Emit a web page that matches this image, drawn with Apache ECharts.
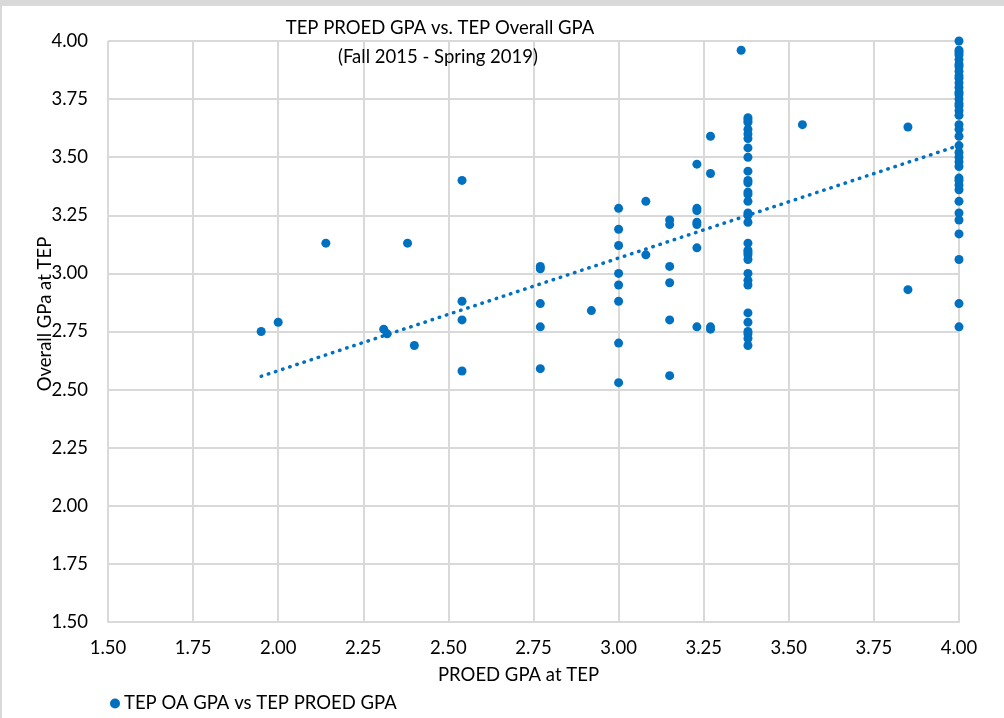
<!DOCTYPE html>
<html>
<head>
<meta charset="utf-8">
<script src="https://cdn.jsdelivr.net/npm/echarts@6/dist/echarts.min.js"></script>
<style>
html,body{margin:0;padding:0;background:#fff;}
#chart{width:1004px;height:718px;}
</style>
</head>
<body>
<div id="chart"></div>
<script>
// PROED GPA at TEP (x) and Overall GPA at TEP (y), paired
const proedGpa = [
  1.95, 2.00, 2.14, 2.31, 2.32, 2.38, 2.40,
  2.54, 2.54, 2.54, 2.54,
  2.77, 2.77, 2.77, 2.77, 2.77,
  2.92,
  3.00, 3.00, 3.00, 3.00, 3.00, 3.00, 3.00, 3.00,
  3.08, 3.08,
  3.15, 3.15, 3.15, 3.15, 3.15, 3.15,
  3.23, 3.23, 3.23, 3.23, 3.23, 3.23, 3.23,
  3.27, 3.27, 3.27, 3.27,
  3.36,
  3.38, 3.38, 3.38, 3.38, 3.38, 3.38, 3.38, 3.38, 3.38, 3.38, 3.38, 3.38, 3.38, 3.38, 3.38, 3.38,
  3.38, 3.38, 3.38, 3.38, 3.38, 3.38, 3.38, 3.38, 3.38, 3.38, 3.38, 3.38, 3.38, 3.38, 3.38,
  3.54,
  3.85, 3.85,
  4.00, 4.00, 4.00, 4.00, 4.00, 4.00, 4.00, 4.00, 4.00, 4.00, 4.00, 4.00, 4.00, 4.00, 4.00, 4.00, 4.00, 4.00, 4.00,
  4.00, 4.00, 4.00, 4.00, 4.00, 4.00, 4.00, 4.00, 4.00, 4.00, 4.00, 4.00, 4.00, 4.00, 4.00, 4.00, 4.00, 4.00, 4.00
];
const overallGpa = [
  2.75, 2.79, 3.13, 2.76, 2.74, 3.13, 2.69,
  3.40, 2.88, 2.80, 2.58,
  3.03, 3.02, 2.87, 2.77, 2.59,
  2.84,
  3.28, 3.19, 3.12, 3.00, 2.95, 2.88, 2.70, 2.53,
  3.31, 3.08,
  3.23, 3.21, 3.03, 2.96, 2.80, 2.56,
  3.47, 3.28, 3.27, 3.22, 3.21, 3.11, 2.77,
  3.59, 3.43, 2.77, 2.76,
  3.96,
  3.67, 3.66, 3.65, 3.62, 3.60, 3.58, 3.54, 3.50, 3.44, 3.40, 3.39, 3.35, 3.34, 3.31, 3.26, 3.25,
  3.22, 3.13, 3.10, 3.09, 3.08, 3.06, 3.00, 2.97, 2.95, 2.83, 2.79, 2.75, 2.74, 2.72, 2.69,
  3.64,
  3.63, 2.93,
  4.00, 3.96, 3.95, 3.94, 3.92, 3.90, 3.89, 3.87, 3.85, 3.84, 3.82, 3.80, 3.78, 3.77, 3.75, 3.73, 3.72, 3.70, 3.68,
  3.64, 3.62, 3.59, 3.55, 3.52, 3.50, 3.48, 3.46, 3.41, 3.40, 3.38, 3.36, 3.31, 3.26, 3.23, 3.17, 3.06, 2.87, 2.77
];
const titleLines = ['TEP PROED GPA vs. TEP Overall GPA', '(Fall 2015 - Spring 2019)'];
const seriesName = 'TEP OA GPA vs TEP PROED GPA';
const xAxisName = 'PROED GPA at TEP';
const yAxisName = 'Overall GPa at TEP';

const points = proedGpa.map((x, i) => [x, overallGpa[i]]);

// Linear (least squares) trendline, as Excel draws it
const n = points.length;
let sx = 0, sy = 0, sxx = 0, sxy = 0;
points.forEach(([x, y]) => { sx += x; sy += y; sxx += x * x; sxy += x * y; });
const slope = (n * sxy - sx * sy) / (n * sxx - sx * sx);
const intercept = (sy - slope * sx) / n;
const xMin = Math.min(...proedGpa), xMax = Math.max(...proedGpa);
const trend = [[xMin, intercept + slope * xMin], [xMax, intercept + slope * xMax]];

const FONT = 'Lato';
const FS = 18.5;
const chart = echarts.init(document.getElementById('chart'), null, {renderer: 'canvas'});
chart.setOption({
  animation: false,
  backgroundColor: '#fff',
  textStyle: {fontFamily: FONT},
  title: [
    {text: titleLines[0], left: 440, top: 19, textAlign: 'center', padding: 0,
     textStyle: {fontFamily: FONT, fontSize: FS, fontWeight: 'normal', color: '#000'}},
    {text: titleLines[1], left: 438, top: 48, textAlign: 'center', padding: 0,
     textStyle: {fontFamily: FONT, fontSize: FS, fontWeight: 'normal', color: '#000'}}
  ],
  grid: {left: 108, right: 45, top: 41, bottom: 96, containLabel: false},
  legend: {
    left: 110, top: 694, padding: 0, itemWidth: 10, itemHeight: 10, itemGap: 6,
    icon: 'circle',
    textStyle: {fontFamily: FONT, fontSize: FS, color: '#000', padding: [0, 0, 0, -1]},
    data: [seriesName]
  },
  xAxis: {
    type: 'value', min: 1.5, max: 4.0, interval: 0.25,
    name: xAxisName, nameLocation: 'middle', nameGap: 44,
    nameTextStyle: {fontFamily: FONT, fontSize: FS, color: '#000', padding: [0, 30, 0, 0]},
    axisLine: {show: true, lineStyle: {color: '#d9d9d9', width: 2}},
    axisTick: {show: false},
    axisLabel: {fontFamily: FONT, fontSize: FS, color: '#000', margin: 17,
      formatter: v => v.toFixed(2)},
    splitLine: {show: true, lineStyle: {color: '#d9d9d9', width: 2}}
  },
  yAxis: {
    type: 'value', min: 1.5, max: 4.0, interval: 0.25,
    axisLine: {show: false},
    axisTick: {show: false},
    axisLabel: {fontFamily: FONT, fontSize: FS, color: '#000', margin: 20,
      formatter: v => v.toFixed(2)},
    splitLine: {show: true, lineStyle: {color: '#d9d9d9', width: 2}}
  },
  graphic: [
    {type: 'rect', left: 0, top: 0, shape: {width: 1004, height: 6}, style: {fill: '#d9d9d9'}, silent: true},
    {type: 'rect', left: 0, top: 0, shape: {width: 2, height: 718}, style: {fill: '#d9d9d9'}, silent: true},
    {type: 'text', x: 45, y: 314, rotation: Math.PI / 2,
     style: {text: yAxisName, fontFamily: FONT, fontSize: FS, fill: '#000',
       textAlign: 'center', textVerticalAlign: 'middle'}}
  ],
  series: [
    {
      name: seriesName, type: 'scatter', data: points,
      symbol: 'circle', symbolSize: 9,
      itemStyle: {color: '#0070c0', opacity: 1}, z: 3
    },
    {
      name: 'trend', type: 'line', data: trend, symbol: 'none',
      lineStyle: {color: '#0070c0', width: 3.5, type: [0.5, 7], cap: 'round'},
      z: 4, silent: true
    }
  ]
});
</script>
</body>
</html>
